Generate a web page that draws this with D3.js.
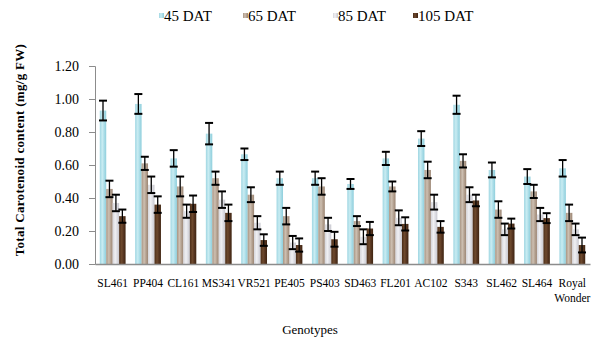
<!DOCTYPE html>
<html>
<head>
<meta charset="utf-8">
<script src="https://cdn.jsdelivr.net/npm/d3@7"></script>
<style>
  body { margin: 0; background: #fff; }
  svg text { font-family: "Liberation Serif", Tinos, "Times New Roman", "DejaVu Serif", serif !important; fill: #000; }
</style>
</head>
<body>
<div id="chart"></div>
<script>
// data
var genotypes = ["SL461", "PP404", "CL161", "MS341", "VR521", "PE405", "PS403",
                 "SD463", "FL201", "AC102", "S343", "SL462", "SL464", "Royal Wonder"];
var seriesNames = ["45 DAT", "65 DAT", "85 DAT", "105 DAT"];
var dat45  = [0.93, 0.97, 0.64, 0.79, 0.665, 0.52, 0.52, 0.485, 0.64, 0.76, 0.965, 0.57, 0.53, 0.58];
var err45  = [0.06, 0.06, 0.05, 0.065, 0.035, 0.04, 0.04, 0.03, 0.04, 0.045, 0.055, 0.045, 0.045, 0.05];
var dat65  = [0.455, 0.61, 0.47, 0.52, 0.42, 0.29, 0.47, 0.26, 0.47, 0.57, 0.625, 0.33, 0.44, 0.31];
var err65  = [0.05, 0.04, 0.06, 0.04, 0.045, 0.05, 0.05, 0.03, 0.03, 0.05, 0.04, 0.05, 0.04, 0.05];
var dat85  = [0.37, 0.48, 0.32, 0.39, 0.25, 0.13, 0.24, 0.165, 0.28, 0.375, 0.42, 0.21, 0.30, 0.21];
var err85  = [0.05, 0.05, 0.04, 0.05, 0.04, 0.04, 0.04, 0.045, 0.045, 0.045, 0.045, 0.035, 0.04, 0.035];
var dat105 = [0.29, 0.36, 0.365, 0.31, 0.145, 0.115, 0.15, 0.215, 0.243, 0.225, 0.385, 0.245, 0.278, 0.115];
var err105 = [0.04, 0.05, 0.05, 0.05, 0.035, 0.04, 0.045, 0.04, 0.04, 0.035, 0.035, 0.03, 0.03, 0.045];
var yTicks = [0, 0.2, 0.4, 0.6, 0.8, 1.0, 1.2];

var values = [dat45, dat65, dat85, dat105];
var errors = [err45, err65, err85, err105];

var width = 596, height = 344;
var plotLeft = 95, plotRight = 590, plotTop = 66, plotBottom = 264;

var svg = d3.select("#chart").append("svg")
    .attr("width", width)
    .attr("height", height);

// textured-looking fills
var fills = [
  ["#9fd6e2", "#c9ecf2", "#a9dce7", "#8fcfdc"],
  ["#a89482", "#cdbfb1", "#b3a08f", "#9c8674"],
  ["#d4d4da", "#f0f0f3", "#dcdce2", "#c8c8cf"],
  ["#4a2c17", "#6e4a2e", "#553420", "#3e2410"]
];
var defs = svg.append("defs");
fills.forEach(function(c, i) {
  var g = defs.append("linearGradient")
      .attr("id", "fill" + i)
      .attr("x1", 0).attr("x2", 1).attr("y1", 0).attr("y2", 0);
  g.append("stop").attr("offset", "0%").attr("stop-color", c[0]);
  g.append("stop").attr("offset", "40%").attr("stop-color", c[1]);
  g.append("stop").attr("offset", "70%").attr("stop-color", c[2]);
  g.append("stop").attr("offset", "100%").attr("stop-color", c[3]);
});

var x0 = d3.scaleBand()
    .domain(genotypes)
    .range([plotLeft, plotRight])
    .paddingInner(0.27)
    .paddingOuter(0.135);

var x1 = d3.scaleBand()
    .domain(seriesNames)
    .range([0, x0.bandwidth()]);

var y = d3.scaleLinear()
    .domain([0, 1.2])
    .range([plotBottom, plotTop]);

// y axis
var yAxis = svg.append("g")
    .attr("transform", "translate(" + plotLeft + ",0)")
    .call(d3.axisLeft(y).tickValues(yTicks).tickSize(6).tickFormat(d3.format(".2f")));
yAxis.attr("font-family", null);
yAxis.select(".domain").attr("stroke", "#8c8c8c");
yAxis.selectAll(".tick line").attr("stroke", "#8c8c8c");
yAxis.selectAll(".tick text")
    .attr("x", -16)
    .style("font-size", "14px");

// bars
var groups = svg.selectAll("g.grp")
    .data(genotypes)
    .enter()
    .append("g")
    .attr("class", "grp")
    .attr("transform", function(d) { return "translate(" + x0(d) + ",0)"; });

groups.each(function(g, gi) {
  var grp = d3.select(this);
  seriesNames.forEach(function(s, si) {
    var v = values[si][gi], e = errors[si][gi];
    var bx = x1(s), bw = x1.bandwidth();
    grp.append("rect")
        .attr("x", bx)
        .attr("y", y(v))
        .attr("width", bw)
        .attr("height", y(0) - y(v))
        .attr("fill", "url(#fill" + si + ")");
    var cx = bx + bw / 2;
    grp.append("line")
        .attr("x1", cx).attr("x2", cx)
        .attr("y1", y(v + e)).attr("y2", y(v - e))
        .attr("stroke", "#000").attr("stroke-width", 1.3);
    [v + e, v - e].forEach(function(t) {
      grp.append("line")
          .attr("x1", cx - 4).attr("x2", cx + 4)
          .attr("y1", y(t)).attr("y2", y(t))
          .attr("stroke", "#000").attr("stroke-width", 2);
    });
  });
});

// x axis
var xAxis = svg.append("g")
    .attr("transform", "translate(0," + plotBottom + ")")
    .call(d3.axisBottom(x0).tickSize(0).tickSizeOuter(0));
xAxis.attr("font-family", null);
xAxis.select(".domain").attr("stroke", "#8c8c8c").attr("stroke-width", 1.5);
xAxis.selectAll(".tick text").remove();
xAxis.selectAll(".tick").each(function(d) {
  var t = d3.select(this).append("text")
      .attr("text-anchor", "middle")
      .style("font-size", "11.5px");
  var parts = d.split(" ");
  parts.forEach(function(p, i) {
    t.append("tspan")
        .attr("x", 0)
        .attr("y", 23 + i * 15)
        .text(p);
  });
});

// axis titles
svg.append("text")
    .attr("transform", "translate(24," + ((plotTop + plotBottom) / 2 - 15) + ") rotate(-90)")
    .attr("text-anchor", "middle")
    .style("font-size", "13px")
    .style("font-weight", "bold")
    .style("letter-spacing", "0.3px")
    .text("Total Carotenoid content (mg/g FW)");

svg.append("text")
    .attr("x", 310)
    .attr("y", 334)
    .attr("text-anchor", "middle")
    .style("font-size", "13px")
    .text("Genotypes");

// legend
var legendX = [159, 243, 333, 413];
var legend = svg.selectAll("g.leg")
    .data(seriesNames)
    .enter()
    .append("g")
    .attr("class", "leg")
    .attr("transform", function(d, i) { return "translate(" + legendX[i] + ",0)"; });
legend.append("rect")
    .attr("x", 0).attr("y", 13)
    .attr("width", 5).attr("height", 5)
    .attr("fill", function(d, i) { return "url(#fill" + i + ")"; });
legend.append("text")
    .attr("x", 5)
    .attr("y", 21)
    .style("font-size", "15px")
    .text(function(d) { return d; });
</script>
</body>
</html>
